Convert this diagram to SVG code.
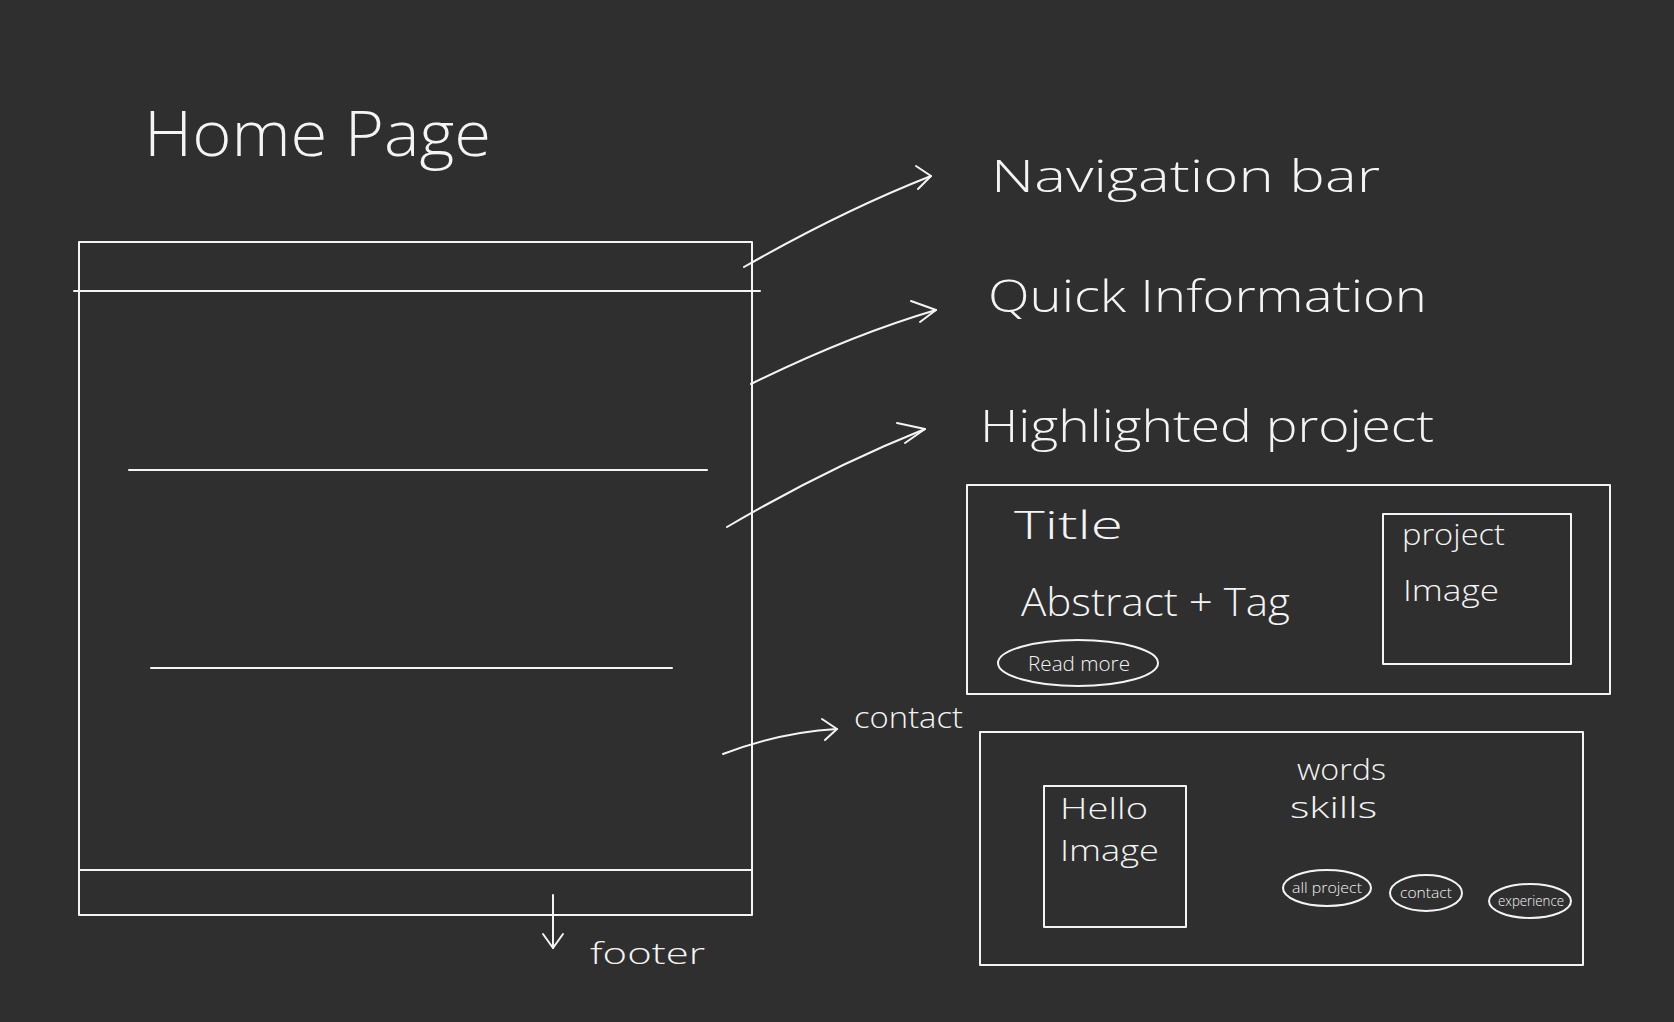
<svg xmlns="http://www.w3.org/2000/svg" width="1674" height="1022" viewBox="0 0 1674 1022">
<defs>
<style>
.bg{fill:#2f2f2f}
.s{fill:none;stroke:#f4f4f4;stroke-width:2;stroke-linecap:round;stroke-linejoin:round}
.t{fill:#f4f4f4;font-family:"Open Sans","Liberation Sans",sans-serif;font-weight:300}
.xl{font-size:62px}
.l{font-size:44px}
.m{font-size:38px}
.sm{font-size:30px}
.xs{font-size:20px}
.xxs{font-size:15px}
</style>
</defs>
<rect class="bg" x="0" y="0" width="1674" height="1022"/>

<g id="title">
<text class="t xl" x="144" y="156" textLength="347" lengthAdjust="spacingAndGlyphs">Home Page</text>
</g>

<g id="home-page-frame">
<rect class="s" x="79" y="242" width="673" height="673"/>
<line class="s" x1="74" y1="291" x2="760" y2="291"/>
<line class="s" x1="129" y1="470" x2="707" y2="470"/>
<line class="s" x1="151" y1="668" x2="672" y2="668"/>
<line class="s" x1="79" y1="870" x2="752" y2="870"/>
</g>

<g id="navigation-bar-label">
<text class="t l" x="991" y="192" textLength="389" lengthAdjust="spacingAndGlyphs">Navigation bar</text>
</g>
<g id="quick-information-label">
<text class="t l" x="988" y="312" textLength="439" lengthAdjust="spacingAndGlyphs">Quick Information</text>
</g>
<g id="highlighted-project-label">
<text class="t l" x="980" y="442" textLength="454" lengthAdjust="spacingAndGlyphs">Highlighted project</text>
</g>

<g id="highlighted-project">
<rect class="s" x="967" y="485" width="643" height="209"/>
<text class="t m" x="1014" y="539" textLength="109" lengthAdjust="spacingAndGlyphs">Title</text>
<text class="t m" x="1021" y="616" textLength="269" lengthAdjust="spacingAndGlyphs">Abstract + Tag</text>
<g id="read-more">
<ellipse class="s" cx="1078" cy="663" rx="80" ry="23"/>
<text class="t xs" x="1028" y="671" textLength="102" lengthAdjust="spacingAndGlyphs">Read more</text>
</g>
<g id="project-image">
<rect class="s" x="1383" y="514" width="188" height="150"/>
<text class="t sm" x="1402" y="545" textLength="103" lengthAdjust="spacingAndGlyphs">project</text>
<text class="t sm" x="1403" y="601" textLength="96" lengthAdjust="spacingAndGlyphs">Image</text>
</g>
</g>

<g id="contact-label">
<text class="t sm" x="854" y="728" textLength="109" lengthAdjust="spacingAndGlyphs">contact</text>
</g>

<g id="contact-section">
<rect class="s" x="980" y="732" width="603" height="233"/>
<g id="hello-image">
<rect class="s" x="1044" y="786" width="142" height="141"/>
<text class="t sm" x="1060" y="819" textLength="88" lengthAdjust="spacingAndGlyphs">Hello</text>
<text class="t sm" x="1060" y="861" textLength="99" lengthAdjust="spacingAndGlyphs">Image</text>
</g>
<text class="t sm" x="1297" y="780" textLength="89" lengthAdjust="spacingAndGlyphs">words</text>
<text class="t sm" x="1290" y="818" textLength="87" lengthAdjust="spacingAndGlyphs">skills</text>
<g id="btn-all-project">
<ellipse class="s" cx="1327" cy="888" rx="44" ry="18"/>
<text class="t xxs" x="1292" y="893" textLength="70" lengthAdjust="spacingAndGlyphs">all project</text>
</g>
<g id="btn-contact">
<ellipse class="s" cx="1426" cy="893" rx="36" ry="18"/>
<text class="t xxs" x="1400" y="898" textLength="52" lengthAdjust="spacingAndGlyphs">contact</text>
</g>
<g id="btn-experience">
<ellipse class="s" cx="1530" cy="901" rx="41" ry="17"/>
<text class="t xxs" x="1498" y="906" textLength="66" lengthAdjust="spacingAndGlyphs">experience</text>
</g>
</g>

<g id="footer-label">
<text class="t sm" x="590" y="964" textLength="115" lengthAdjust="spacingAndGlyphs">footer</text>
</g>

<g id="connectors">
<path class="s" d="M744,267 C800,235 870,200 931,176"/>
<path class="s" d="M916,166 L931,176 L918,189"/>
<path class="s" d="M751,384 C810,355 875,328 936,310"/>
<path class="s" d="M911,301 L936,310 L920,322"/>
<path class="s" d="M727,527 C790,490 860,455 925,429"/>
<path class="s" d="M897,423 L925,429 L905,443"/>
<path class="s" d="M723,754 C760,740 800,731 837,729"/>
<path class="s" d="M822,719 L837,729 L825,740"/>
<path class="s" d="M553,895 L553,948"/>
<path class="s" d="M543,934 L553,948 L563,934"/>
</g>
</svg>
